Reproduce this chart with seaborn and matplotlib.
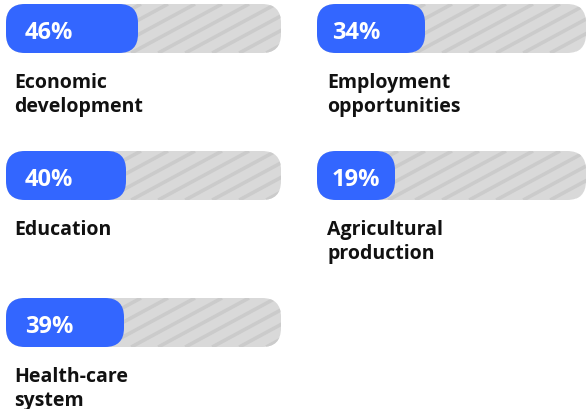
import matplotlib
matplotlib.use("Agg")
import matplotlib.pyplot as plt
from matplotlib.patches import FancyBboxPatch
import seaborn as sns

# values
labels = ["Economic\ndevelopment", "Employment\nopportunities", "Education",
          "Agricultural\nproduction", "Health-care\nsystem"]
values = [46, 34, 40, 19, 39]
value_labels = ["46%", "34%", "40%", "19%", "39%"]

W, H = 586, 410
BLUE = "#3366FF"
TRACK = "#D9D9D9"
STRIPE = "#CBCBCB"

sns.set_theme(style="white")
plt.rcParams["font.family"] = ["Open Sans", "DejaVu Sans"]

fig = plt.figure(figsize=(W / 100, H / 100), dpi=100)

# panel layout in pixels: (left, top, width)
col_left = [6, 317]
col_width = [275, 269]
row_top = [5, 152, 299]
bar_h = 49
px_per_unit = 2.0      # 2 px per percent
pad = 20               # the fill starts 20 units left of zero
radius_px = 19

for i, (lab, val, vlab) in enumerate(zip(labels, values, value_labels)):
    r, c = divmod(i, 2)
    left, top, width = col_left[c], row_top[r], col_width[c]
    ax = fig.add_axes([left / W, 1 - (top + bar_h) / H, width / W, bar_h / H])

    sns.barplot(x=[val], y=[0], orient="h", color=BLUE, width=0.8, ax=ax)
    xmax = width / px_per_unit - pad
    ax.set_xlim(-pad, xmax)
    ax.set_ylim(0.4, -0.4)
    ax.axis("off")

    aspect = 0.8 / bar_h * px_per_unit
    rs = radius_px / px_per_unit

    # track
    track = FancyBboxPatch((-pad, -0.4), xmax + pad, 0.8,
                           boxstyle=f"round,pad=0,rounding_size={rs}",
                           mutation_aspect=aspect, fc=TRACK, ec="none", zorder=0)
    ax.add_patch(track)

    # diagonal stripes clipped to the track
    slope = 0.54
    dx = bar_h / slope / width
    step = 27 / width
    k = -dx
    while k < 1:
        ln, = ax.plot([k, k + dx], [0, 1], transform=ax.transAxes,
                      color=STRIPE, lw=2.6, solid_capstyle="butt", zorder=1)
        ln.set_clip_path(track)
        k += step

    # turn the seaborn bar into a rounded pill
    for p in list(ax.patches):
        if p is track:
            continue
        x0, y0, w, h = p.get_x(), p.get_y(), p.get_width(), p.get_height()
        p.remove()
        ax.add_patch(FancyBboxPatch((x0 - pad, y0), w + pad, h,
                                    boxstyle=f"round,pad=0,rounding_size={rs}",
                                    mutation_aspect=aspect, fc=BLUE, ec="none",
                                    zorder=2))

    ax.annotate(vlab, xy=(0, 1), xycoords="axes fraction",
                xytext=(19 if c == 0 else 15, -34), textcoords="offset pixels",
                ha="left", va="baseline", color="white",
                fontsize=17, fontweight="bold", zorder=3)

    ax.annotate(lab, xy=(0, 1), xycoords="axes fraction",
                xytext=(8 if c == 0 else 10, -68), textcoords="offset pixels",
                ha="left", va="top", color="#111111",
                fontsize=14, fontweight="bold", linespacing=1.28,
                annotation_clip=False)

fig.savefig("out.png", dpi=100)
